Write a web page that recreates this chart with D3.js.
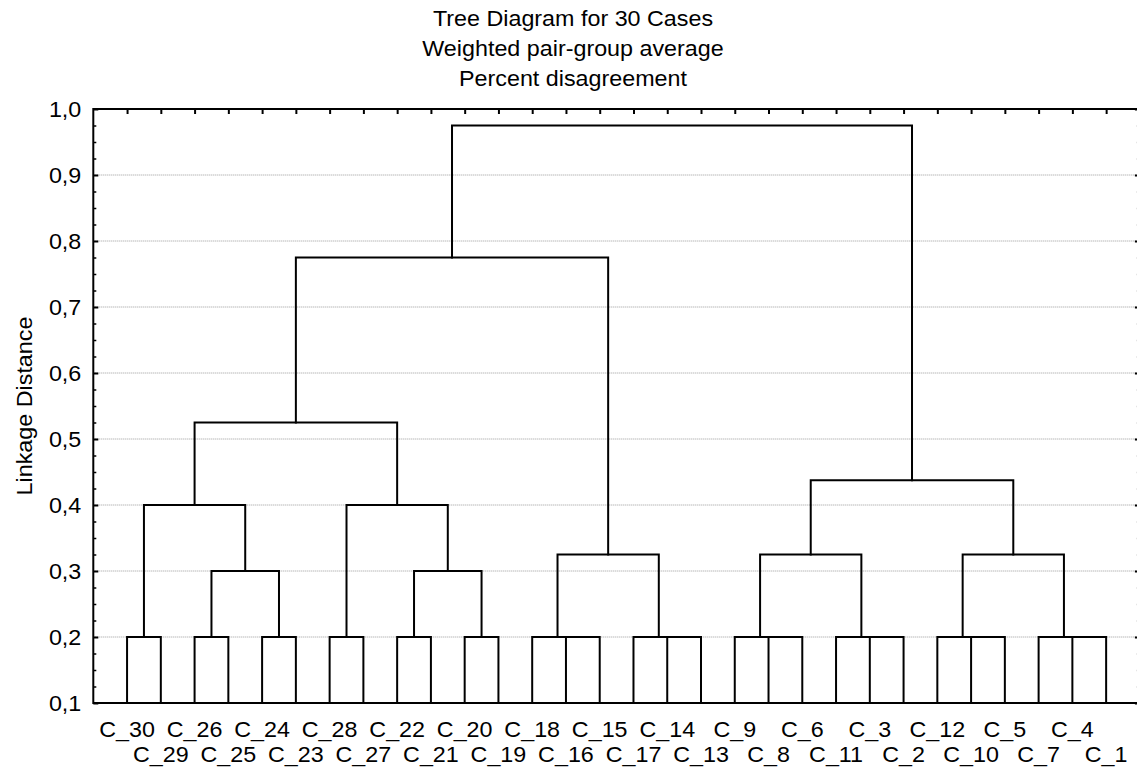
<!DOCTYPE html>
<html>
<head>
<meta charset="utf-8">
<script src="https://cdn.jsdelivr.net/npm/d3@7"></script>
<style>
  html, body { margin: 0; padding: 0; background: #fff; }
  svg { display: block; }
  text { font-family: "Liberation Sans", Arial, sans-serif; fill: #000; }
</style>
</head>
<body>
<svg id="chart" width="1137" height="769"></svg>
<script>
// ---- Data ----
const titleLines = ["Tree Diagram for 30 Cases", "Weighted pair-group average", "Percent disagreement"];
const yAxisLabel = "Linkage Distance";

// Leaf order, left to right
const leaves = ["C_30","C_29","C_26","C_25","C_24","C_23","C_28","C_27","C_22","C_21",
                "C_20","C_19","C_18","C_16","C_15","C_17","C_14","C_13","C_9","C_8",
                "C_6","C_11","C_3","C_2","C_12","C_10","C_5","C_7","C_4","C_1"];

// Merges: merge i creates node "M"+i joining mergeLeft[i] and mergeRight[i] at mergeHeight[i]
const mergeLeft  = ["C_30","C_26","C_24","C_28","C_22","C_20","C_16","C_18","C_14","C_17",
                    "C_8","C_9","C_3","C_11","C_10","C_12","C_4","C_7",
                    "M1","M0","M4","M3","M19","M7","M22","M11","M15","M25","M24"];
const mergeRight = ["C_29","C_25","C_23","C_27","C_21","C_19","C_15","M6","C_13","M8",
                    "C_6","M10","C_2","M12","C_5","M14","C_1","M16",
                    "M2","M18","M5","M20","M21","M9","M23","M13","M17","M26","M27"];
const mergeHeight = [0.2,0.2,0.2,0.2,0.2,0.2,0.2,0.2,0.2,0.2,
                     0.2,0.2,0.2,0.2,0.2,0.2,0.2,0.2,
                     0.3,0.4,0.3,0.4,0.525,0.325,0.775,0.325,0.325,0.4375,0.975];

const yTicksMajor = [0.1,0.2,0.3,0.4,0.5,0.6,0.7,0.8,0.9,1.0];
const yTicksMinorStep = 0.025;
const yGrid = [0.2,0.3,0.4,0.5,0.6,0.7,0.8,0.9];

// ---- Layout ----
const FONT = 22, SX = 1.06;
const svg = d3.select("#chart");
const x = d3.scaleLinear().domain([0, leaves.length + 1]).range([93.3, 1139.9]);
const y = d3.scaleLinear().domain([0.1, 1.0]).range([703, 109]);
const yMin = y.domain()[0];

function stretchedText(g, tx, ty, str, anchor) {
  return g.append("text")
    .attr("transform", `translate(${tx},${ty}) scale(${SX},1)`)
    .attr("text-anchor", anchor || "middle")
    .style("font-size", FONT + "px")
    .text(str);
}

// Title
titleLines.forEach((t, i) => stretchedText(svg, 573, 26 + i * 30, t));

// Gridlines
svg.append("g").selectAll("line").data(yGrid).join("line")
  .attr("x1", x(0)).attr("x2", x(leaves.length + 1))
  .attr("y1", d => y(d)).attr("y2", d => y(d))
  .attr("stroke", "#9a9a9a").attr("stroke-width", 1)
  .attr("stroke-dasharray", "1,1");

// Axes
const fmt = d => d3.format(".1f")(d).replace(".", ",");
const minorVals = d3.range(0, 37).map(i => +(0.1 + i * yTicksMinorStep).toFixed(3))
  .filter(v => !yTicksMajor.some(m => Math.abs(m - v) < 1e-6));

const gLeft = svg.append("g").attr("transform", `translate(${x(0)},0)`)
  .call(d3.axisLeft(y).tickValues(yTicksMajor).tickSize(-5).tickPadding(12).tickFormat(fmt));
gLeft.select(".domain").remove();
gLeft.selectAll(".tick line").attr("stroke", "#000").attr("stroke-width", 2);
gLeft.selectAll(".tick text").each(function() {
  const t = d3.select(this);
  t.attr("x", null).attr("dy", null)
   .attr("transform", `translate(-12,${FONT * 0.35}) scale(${SX},1)`)
   .attr("text-anchor", "end").style("font-size", FONT + "px")
   .style("font-family", '"Liberation Sans", Arial, sans-serif');
});

const gLeftMinor = svg.append("g").attr("transform", `translate(${x(0)},0)`)
  .call(d3.axisLeft(y).tickValues(minorVals).tickSize(-3).tickFormat(""));
gLeftMinor.select(".domain").remove();
gLeftMinor.selectAll(".tick line").attr("stroke", "#000").attr("stroke-width", 1.5);

const gRight = svg.append("g").attr("transform", `translate(${x(leaves.length + 1)},0)`)
  .call(d3.axisRight(y).tickValues(yTicksMajor).tickSize(-5).tickFormat(""));
gRight.select(".domain").remove();
gRight.selectAll(".tick line").attr("stroke", "#000").attr("stroke-width", 2);
const gRightMinor = svg.append("g").attr("transform", `translate(${x(leaves.length + 1)},0)`)
  .call(d3.axisRight(y).tickValues(minorVals).tickSize(-3).tickFormat(""));
gRightMinor.select(".domain").remove();
gRightMinor.selectAll(".tick line").attr("stroke", "#000").attr("stroke-width", 1.5);

const gTop = svg.append("g").attr("transform", `translate(0,${y(1.0)})`)
  .call(d3.axisTop(x).tickValues(d3.range(1, leaves.length + 1)).tickSize(-5).tickFormat(""));
gTop.select(".domain").remove();
gTop.selectAll(".tick line").attr("stroke", "#000").attr("stroke-width", 2);

// Frame
svg.append("rect")
  .attr("x", x(0)).attr("y", y(1.0))
  .attr("width", x(leaves.length + 1) - x(0)).attr("height", y(0.1) - y(1.0))
  .attr("fill", "none").attr("stroke", "#000").attr("stroke-width", 2);

// Y axis label
svg.append("text")
  .attr("transform", `translate(31.5,${(y(0.1) + y(1.0)) / 2}) rotate(-90) scale(${SX},1)`)
  .attr("text-anchor", "middle").style("font-size", FONT + "px")
  .text(yAxisLabel);

// ---- Dendrogram ----
const nodePos = {};
leaves.forEach((name, i) => { nodePos[name] = { x: x(i + 1), h: yMin }; });
const segs = [];
mergeLeft.forEach((a, i) => {
  const b = mergeRight[i], h = mergeHeight[i];
  const A = nodePos[a], B = nodePos[b];
  segs.push({ ax: A.x, ah: A.h, bx: B.x, bh: B.h, h });
  nodePos["M" + i] = { x: (A.x + B.x) / 2, h };
});

svg.append("g").selectAll("path").data(segs).join("path")
  .attr("d", d => `M${d.ax},${y(d.ah)}V${y(d.h)}H${d.bx}V${y(d.bh)}`)
  .attr("fill", "none").attr("stroke", "#000").attr("stroke-width", 2)
  .attr("stroke-linejoin", "miter").attr("stroke-linecap", "square");

// Leaf labels in two staggered rows
const gLabels = svg.append("g");
leaves.forEach((name, i) => {
  stretchedText(gLabels, x(i + 1), i % 2 === 0 ? 737 : 762, name);
});
</script>
</body>
</html>
